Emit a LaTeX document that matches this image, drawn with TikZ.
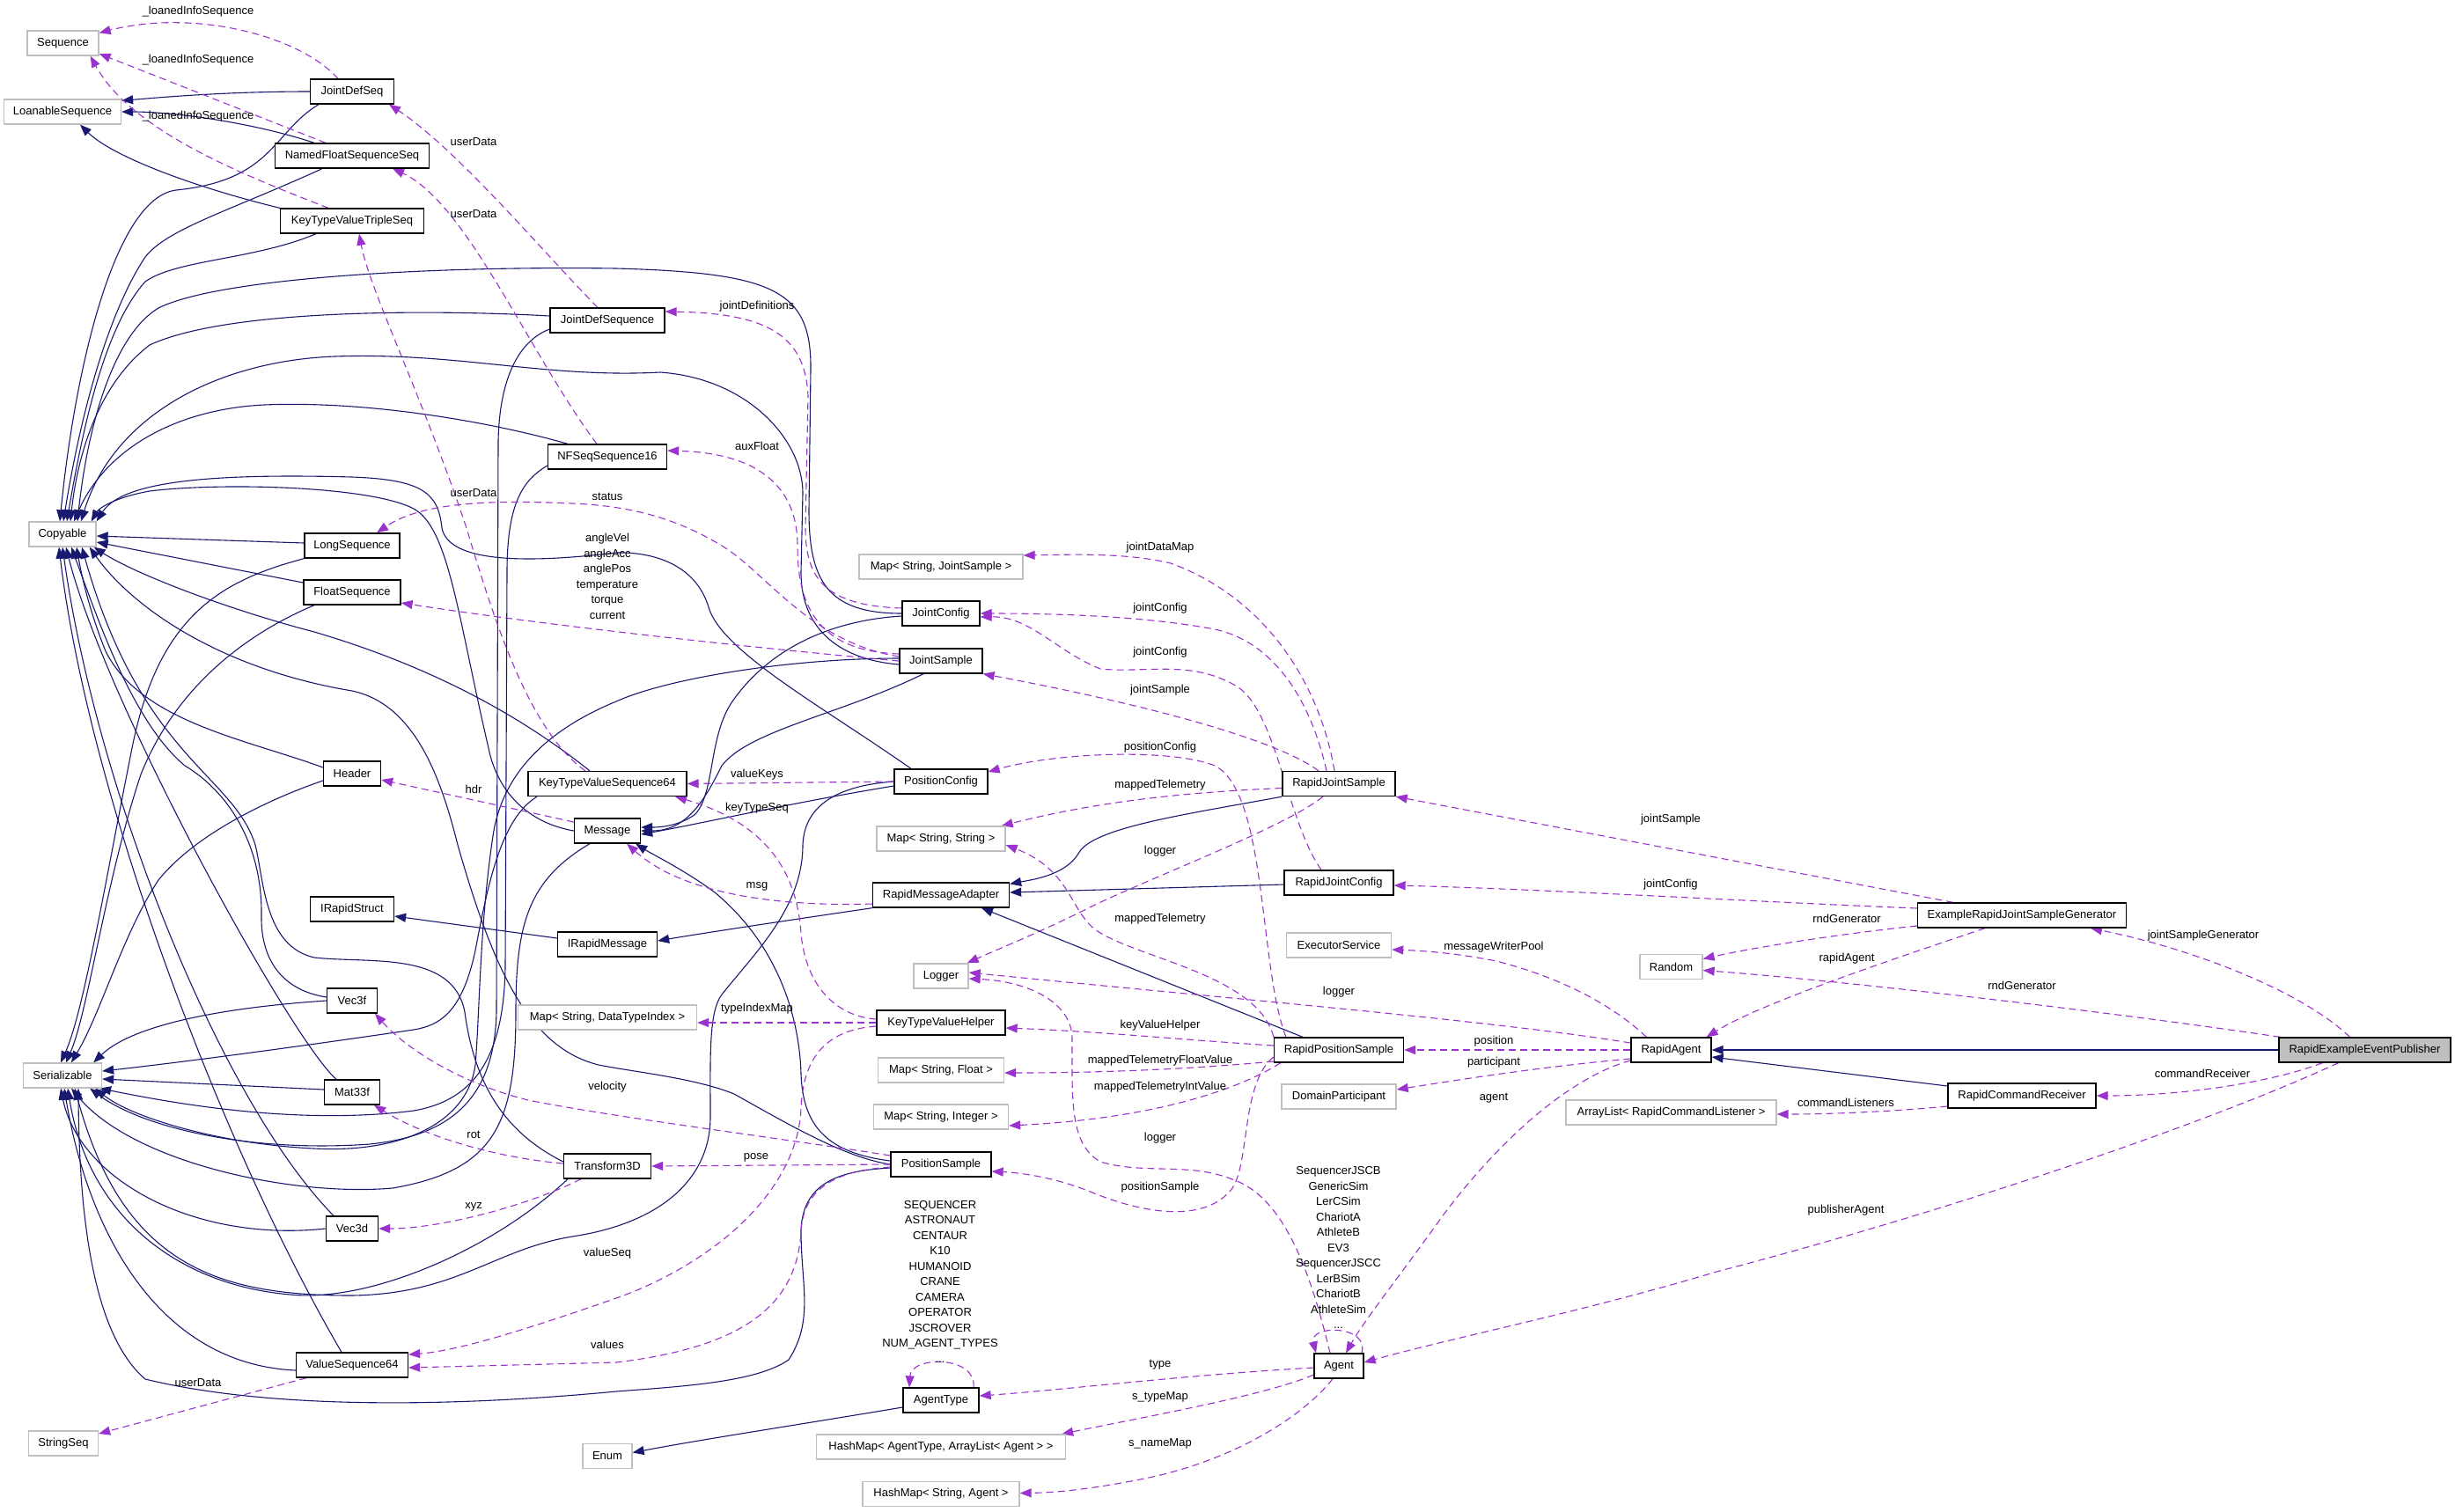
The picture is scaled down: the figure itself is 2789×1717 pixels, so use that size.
\documentclass[tikz,border=0pt]{standalone}
\usepackage{fontspec}
\setmainfont{Liberation Sans}
\usetikzlibrary{arrows.meta}
\definecolor{inhc}{HTML}{191970}
\definecolor{usec}{HTML}{9A32CD}
\definecolor{gbord}{HTML}{BFBFBF}
\newcommand\dfont{\fontsize{13}{15}\selectfont}
\pgfdeclarelayer{bg}
\pgfsetlayers{bg,main}
\tikzset{
 box/.style={draw=black, line width=1.3pt, fill=white, minimum height=28pt, inner xsep=5pt, inner ysep=0pt, font=\dfont, text=black},
 gbox/.style={box, draw=gbord},
 inh/.style={draw=inhc, line width=1.1pt, -{Triangle[length=13pt,width=10pt]}},
 use/.style={draw=usec, line width=1.1pt, dash pattern=on 8pt off 5pt, -{Triangle[length=13pt,width=10pt]}},
 lab/.style={font=\dfont, inner sep=0pt, text=black},
 mlab/.style={lab, align=center, font=\fontsize{13}{17.5}\selectfont},
}
\begin{document}
\begin{tikzpicture}[x=1pt,y=-1pt]
\useasboundingbox (0,0) rectangle (2789,1717);
% ---------- nodes ----------
\node[gbox, minimum width=81pt] (seq) at (71.5,49) {Sequence};
\node[gbox, minimum width=133pt] (loan) at (71,127) {LoanableSequence};
\node[gbox, minimum width=76pt] (copy) at (71,607) {Copyable};
\node[gbox, minimum width=89pt] (ser) at (71,1222) {Serializable};
\node[gbox, minimum width=79pt] (strseq) at (72,1640) {StringSeq};
\node[box, minimum width=95pt] (jds) at (400,104) {JointDefSeq};
\node[box, minimum width=175pt] (nfss) at (400,177) {NamedFloatSequenceSeq};
\node[box, minimum width=163pt] (ktvts) at (400,251) {KeyTypeValueTripleSeq};
\node[box, minimum width=108pt] (longs) at (400,620) {LongSequence};
\node[box, minimum width=110pt] (floats) at (400,673) {FloatSequence};
\node[box, minimum width=65pt] (header) at (400,879) {Header};
\node[box, minimum width=95pt] (irs) at (400,1033) {IRapidStruct};
\node[box, minimum width=57pt] (vec3f) at (400,1137) {Vec3f};
\node[box, minimum width=63pt] (mat33f) at (400,1241) {Mat33f};
\node[box, minimum width=59pt] (vec3d) at (400,1396) {Vec3d};
\node[box, minimum width=127pt] (vs64) at (400,1551) {ValueSequence64};
\node[box, minimum width=130pt] (jdseq) at (690,364) {JointDefSequence};
\node[box, minimum width=135pt] (nfs16) at (690,519) {NFSeqSequence16};
\node[box, minimum width=180pt] (ktvs64) at (690,890.5) {KeyTypeValueSequence64};
\node[box, minimum width=75pt] (msg) at (690,944) {Message};
\node[box, minimum width=113pt] (irm) at (690,1073) {IRapidMessage};
\node[gbox, minimum width=203pt] (mapdti) at (690,1156) {Map< String, DataTypeIndex >};
\node[box, minimum width=99pt] (tr3d) at (690,1325) {Transform3D};
\node[gbox, minimum width=56pt] (enum) at (690,1654.5) {Enum};
\node[gbox, minimum width=186pt] (mapjs) at (1069,644) {Map< String, JointSample >};
\node[box, minimum width=88pt] (jc) at (1069,697) {JointConfig};
\node[box, minimum width=94pt] (js) at (1069,751) {JointSample};
\node[box, minimum width=106pt] (pc) at (1069,888) {PositionConfig};
\node[gbox, minimum width=146pt] (mapss) at (1069,953) {Map< String, String >};
\node[box, minimum width=155pt] (rma) at (1069,1017) {RapidMessageAdapter};
\node[gbox, minimum width=62pt] (logger) at (1069,1109) {Logger};
\node[box, minimum width=146pt] (ktvh) at (1069,1162) {KeyTypeValueHelper};
\node[gbox, minimum width=143pt] (mapsf) at (1069,1216) {Map< String, Float >};
\node[gbox, minimum width=153pt] (mapsi) at (1069,1269) {Map< String, Integer >};
\node[box, minimum width=114pt] (ps) at (1069,1323) {PositionSample};
\node[box, minimum width=86pt] (at) at (1069,1591) {AgentType};
\node[gbox, minimum width=283pt] (hmat) at (1069,1644) {HashMap< AgentType, ArrayList< Agent > >};
\node[gbox, minimum width=178pt] (hmsa) at (1069,1697.5) {HashMap< String, Agent >};
\node[box, minimum width=128pt] (rjs) at (1521,890.5) {RapidJointSample};
\node[box, minimum width=124pt] (rjc) at (1521,1003) {RapidJointConfig};
\node[gbox, minimum width=119pt] (exec) at (1521,1074) {ExecutorService};
\node[box, minimum width=147pt] (rps) at (1521,1193) {RapidPositionSample};
\node[gbox, minimum width=130pt] (domp) at (1521,1246) {DomainParticipant};
\node[box, minimum width=56pt] (agent) at (1521,1552) {Agent};
\node[gbox, minimum width=71pt] (random) at (1898.5,1098.5) {Random};
\node[box, minimum width=91pt] (ra) at (1898.5,1193) {RapidAgent};
\node[gbox, minimum width=239pt] (arrl) at (1898.5,1264) {ArrayList< RapidCommandListener >};
\node[box, minimum width=237pt] (erjsg) at (2297,1040) {ExampleRapidJointSampleGenerator};
\node[box, minimum width=168pt] (rcr) at (2297,1245) {RapidCommandReceiver};
\node[box, fill=gbord, minimum width=195pt] (reep) at (2686.5,1193) {RapidExampleEventPublisher};
% ---------- labels ----------
\node[lab] (l1) at (225,13) {\_loanedInfoSequence};
\node[lab] (l2) at (225,68) {\_loanedInfoSequence};
\node[lab] (l3) at (225,132) {\_loanedInfoSequence};
\node[lab] (l4) at (538,161) {userData};
\node[lab] (l5) at (538,243) {userData};
\node[lab] (l6) at (538,560) {userData};
\node[lab] (l7) at (225,1571) {userData};
\node[lab] (l8) at (860,348) {jointDefinitions};
\node[lab] (l9) at (860,507) {auxFloat};
\node[lab] (l10) at (690,564) {status};
\node[mlab] (l11) at (690,655) {angleVel\\angleAcc\\anglePos\\temperature\\torque\\current};
\node[lab] (l12) at (538,897) {hdr};
\node[lab] (l13) at (860,880) {valueKeys};
\node[lab] (l14) at (860,918) {keyTypeSeq};
\node[lab] (l15) at (860,1007) {msg};
\node[lab] (l16) at (860,1146) {typeIndexMap};
\node[lab] (l17) at (690,1235) {velocity};
\node[lab] (l18) at (538,1289) {rot};
\node[lab] (l19) at (538,1371) {xyz};
\node[lab] (l20) at (859,1315) {pose};
\node[lab] (l21) at (690,1424) {valueSeq};
\node[lab] (l22) at (690,1528) {values};
\node[lab] (l23) at (1318,622) {jointDataMap};
\node[lab] (l24) at (1318,691) {jointConfig};
\node[lab] (l25) at (1318,741) {jointConfig};
\node[lab] (l26) at (1318,784) {jointSample};
\node[lab] (l27) at (1318,849) {positionConfig};
\node[lab] (l28) at (1318,892) {mappedTelemetry};
\node[lab] (l29) at (1318,967) {logger};
\node[lab] (l30) at (1318,1044) {mappedTelemetry};
\node[lab] (l31) at (1318,1165) {keyValueHelper};
\node[lab] (l32) at (1318,1205) {mappedTelemetryFloatValue};
\node[lab] (l33) at (1318,1235) {mappedTelemetryIntValue};
\node[lab] (l34) at (1318,1293) {logger};
\node[lab] (l35) at (1318,1349) {positionSample};
\node[lab] (l36) at (1318,1551) {type};
\node[lab] (l37) at (1318,1587) {s\_typeMap};
\node[lab] (l38) at (1318,1640) {s\_nameMap};
\node[mlab] (l39) at (1068,1456) {SEQUENCER\\ASTRONAUT\\CENTAUR\\K10\\HUMANOID\\CRANE\\CAMERA\\OPERATOR\\JSCROVER\\NUM\_AGENT\_TYPES\\...};
\node[mlab] (l40) at (1520.5,1417.5) {SequencerJSCB\\GenericSim\\LerCSim\\ChariotA\\AthleteB\\EV3\\SequencerJSCC\\LerBSim\\ChariotB\\AthleteSim\\...};
\node[lab] (l41) at (1898,931) {jointSample};
\node[lab] (l42) at (1898,1005) {jointConfig};
\node[lab] (l43) at (1697,1076) {messageWriterPool};
\node[lab] (l44) at (1521,1127) {logger};
\node[lab] (l45) at (1697,1183) {position};
\node[lab] (l46) at (1697,1207) {participant};
\node[lab] (l47) at (1697,1248) {agent};
\node[lab] (l48) at (2098,1044) {rndGenerator};
\node[lab] (l49) at (2098,1089) {rapidAgent};
\node[lab] (l50) at (2097,1253) {commandListeners};
\node[lab] (l51) at (2097,1375) {publisherAgent};
\node[lab] (l52) at (2503,1063) {jointSampleGenerator};
\node[lab] (l53) at (2297,1120) {rndGenerator};
\node[lab] (l54) at (2502,1219.5) {commandReceiver};
% ---------- edges ----------
\begin{pgfonlayer}{bg}
% to LoanableSequence
\draw[inh] (jds.west) .. controls (260,104) and (190,110) .. ([yshift=-2pt]loan.north east);
\draw[inh] ([xshift=-43pt]nfss.north) .. controls (290,140) and (200,127) .. (loan.east);
\draw[inh] (ktvts.north west) .. controls (230,215) and (130,180) .. ([xshift=20pt]loan.south);
% to Copyable
\draw[inh] ([xshift=-38pt]jds.south) .. controls (310,150) and (310,205) .. (200,216) .. controls (130,225) and (85,420) .. ([xshift=-3pt]copy.north);
\draw[inh] ([xshift=-34pt]nfss.south) .. controls (260,240) and (190,260) .. (165,292) .. controls (120,360) and (90,480) .. ([xshift=1pt]copy.north);
\draw[inh] ([xshift=-41pt]ktvts.south) .. controls (290,295) and (200,295) .. (165,320) .. controls (120,370) and (95,480) .. ([xshift=5pt]copy.north);
\draw[inh] ([yshift=5pt]jdseq.west) .. controls (500,352) and (260,350) .. (170,392) .. controls (120,430) and (90,500) .. ([xshift=9pt]copy.north);
\draw[inh] ([xshift=-45pt]nfs16.north) .. controls (560,480) and (420,455) .. (300,460) .. controls (200,465) and (120,510) .. ([xshift=13pt]copy.north);
\draw[inh] (jc.west) .. controls (940,697) and (919,660) .. (919,580) -- (921,420) .. controls (922,330) and (880,310) .. (700,305) .. controls (500,302) and (250,315) .. (180,350) .. controls (130,380) and (100,480) .. ([xshift=17pt]copy.north);
\draw[inh] ([yshift=-4pt]js.west) .. controls (960,750) and (910,720) .. (910,650) -- (912,560) .. controls (912,500) and (850,430) .. (750,423) .. controls (620,430) and (520,400) .. (380,405) .. controls (250,410) and (130,470) .. ([xshift=21pt]copy.north);
\draw[inh] ([xshift=-34pt]pc.north) .. controls (930,800) and (820,740) .. (805,690) .. controls (790,640) and (740,627) .. (700,628) .. controls (600,640) and (510,640) .. (502,600) .. controls (498,560) and (480,545) .. (400,542) .. controls (250,538) and (140,545) .. (copy.north east);
\draw[inh] (msg.west) .. controls (600,935) and (565,900) .. (555,850) .. controls (520,700) and (510,600) .. (470,578) .. controls (420,552) and (250,548) .. (170,558) .. controls (130,565) and (112,578) .. ([xshift=-6pt]copy.north east);
\draw[inh] ([yshift=3pt]longs.west) -- ([yshift=-2pt]copy.east);
\draw[inh] ([yshift=11pt]floats.west) -- ([yshift=-9pt]copy.east);
\draw[inh] ([yshift=7pt]header.west) .. controls (280,840) and (160,820) .. (120,740) .. controls (100,690) and (92,650) .. ([xshift=16pt]copy.south);
\draw[inh] ([xshift=-20pt]ktvs64.north) .. controls (600,820) and (500,760) .. (357,718) .. controls (250,690) and (150,650) .. ([xshift=-3pt]copy.south east);
\draw[inh] ([yshift=4pt]vec3f.west) .. controls (320,1125) and (296,1090) .. (297,1040) .. controls (298,960) and (260,900) .. (210,870) .. controls (150,820) and (110,700) .. ([xshift=10pt]copy.south);
\draw[inh] ([xshift=-18pt]mat33f.north) .. controls (330,1180) and (120,800) .. ([xshift=4pt]copy.south);
\draw[inh] ([xshift=-21pt]vec3d.north) .. controls (250,1250) and (110,900) .. (copy.south);
\draw[inh] ([xshift=-12pt]vs64.north) .. controls (250,1300) and (100,900) .. ([xshift=-4pt]copy.south);
\draw[inh] ([yshift=5pt]tr3d.west) .. controls (580,1290) and (540,1240) .. (528,1150) .. controls (515,1080) and (420,1095) .. (357,1088) .. controls (300,1075) and (300,1000) .. (290,960) .. controls (265,880) and (160,860) .. ([xshift=22pt]copy.south);
\draw[inh] (ps.west) .. controls (960,1315) and (900,1280) .. (834,1243) .. controls (790,1225) and (720,1218) .. (680,1210) .. controls (600,1190) and (560,1100) .. (520,960) .. controls (500,880) and (470,800) .. (400,785) .. controls (250,760) and (150,690) .. ([xshift=-8pt]copy.south east);
% to Serializable
\draw[inh] (longs.south west) .. controls (250,660) and (180,700) .. (150,850) .. controls (120,1000) and (95,1150) .. ([xshift=-2pt]ser.north);
\draw[inh] ([xshift=-43pt]floats.south) .. controls (280,720) and (200,780) .. (160,880) .. controls (120,1000) and (100,1150) .. ([xshift=4pt]ser.north);
\draw[inh] ([yshift=-8pt]header.west) .. controls (300,910) and (220,950) .. (180,1000) .. controls (140,1060) and (115,1150) .. ([xshift=10pt]ser.north);
\draw[inh] (vec3f.west) .. controls (250,1145) and (150,1165) .. ([xshift=-10pt]ser.north east);
\draw[inh] ([yshift=3pt]mat33f.west) -- ([yshift=-4pt]ser.east);
\draw[inh] ([xshift=-80pt]ktvs64.south) .. controls (570,930) and (555,1000) .. (540,1080) .. controls (525,1150) and (500,1165) .. (470,1170) .. controls (300,1195) and (180,1210) .. ([yshift=5pt]ser.east);
\draw[inh] (vec3d.west) .. controls (220,1412) and (90,1340) .. ([xshift=-2pt]ser.south);
\draw[inh] ([yshift=-6pt]vs64.west) .. controls (180,1550) and (100,1400) .. ([xshift=2pt]ser.south);
\draw[inh] ([xshift=-45pt]tr3d.south) .. controls (560,1420) and (420,1480) .. (330,1471) .. controls (200,1460) and (100,1380) .. ([xshift=6pt]ser.south);
\draw[inh] ([xshift=-20pt]msg.south) .. controls (600,1000) and (586,1050) .. (586,1150) .. controls (586,1280) and (560,1330) .. (446,1350) .. controls (330,1360) and (150,1320) .. ([xshift=10pt]ser.south);
\draw[inh] (pc.west) .. controls (960,892) and (914,910) .. (912,960) .. controls (912,1030) and (860,1080) .. (820,1130) .. controls (805,1150) and (807,1200) .. (807,1269) .. controls (807,1340) and (750,1390) .. (650,1405) .. controls (560,1420) and (520,1470) .. (400,1472) .. controls (250,1472) and (140,1440) .. ([xshift=14pt]ser.south);
\draw[inh] ([yshift=-4pt]ps.west) .. controls (960,1330) and (912,1340) .. (910,1398) .. controls (910,1460) and (925,1500) .. (896,1545) .. controls (860,1570) and (780,1575) .. (700,1581) .. controls (500,1600) and (300,1600) .. (165,1567) .. controls (110,1520) and (90,1400) .. ([xshift=18pt]ser.south);
\draw[inh] ([yshift=3pt]js.west) .. controls (900,748) and (760,770) .. (700,797) .. controls (620,830) and (570,880) .. (560,950) .. controls (545,1050) and (545,1150) .. (540,1210) .. controls (530,1280) and (450,1310) .. (357,1305) .. controls (250,1300) and (150,1270) .. ([xshift=-8pt]ser.south east);
\draw[inh] ([yshift=-10pt]jdseq.west) .. controls (595,385) and (568,420) .. (566,500) -- (564,1150) .. controls (562,1240) and (520,1290) .. (420,1300) .. controls (280,1310) and (160,1280) .. ([xshift=-14pt]ser.south east);
\draw[inh] ([yshift=-10pt]nfs16.west) .. controls (595,545) and (576,570) .. (576,650) -- (574,1100) .. controls (572,1200) and (540,1250) .. (470,1262) .. controls (330,1280) and (180,1250) .. ([xshift=-3pt]ser.south east);
% Message
\draw[inh] ([yshift=-3pt]jc.west) .. controls (940,705) and (870,740) .. (830,800) .. controls (805,840) and (812,900) .. (790,925) .. controls (770,940) and (745,940) .. ([yshift=4pt]msg.east);
\draw[inh] ([xshift=-20pt]js.south) .. controls (960,810) and (850,830) .. (820,870) .. controls (800,910) and (780,944) .. (msg.east);
\draw[inh] ([yshift=-5pt]pc.west) .. controls (900,912) and (800,935) .. ([yshift=-4pt]msg.east);
\draw[inh] ([yshift=4pt]ps.west) .. controls (940,1310) and (912,1280) .. (910,1220) .. controls (908,1150) and (880,1070) .. (812,1014) .. controls (780,990) and (740,970) .. ([xshift=-6pt]msg.south east);
% other inheritance
\draw[inh] (rma.south west) .. controls (900,1045) and (800,1060) .. ([yshift=4pt]irm.east);
\draw[inh] ([yshift=7pt]irm.west) -- ([yshift=-8pt]irs.east);
\draw[inh] (rjs.south west) .. controls (1350,925) and (1240,940) .. (1225,970) .. controls (1210,995) and (1170,1000) .. ([yshift=-2pt]rma.north east);
\draw[inh] ([yshift=-2pt]rjc.west) -- ([yshift=3pt]rma.east);
\draw[inh] ([xshift=-41pt]rps.north) -- ([xshift=46pt]rma.south);
\draw[inh] ([yshift=11pt]rcr.west) -- ([yshift=-8pt]ra.east);
\draw[inh] (reep.west) -- (ra.east);
\draw[inh] ([yshift=-8pt]at.west) .. controls (900,1620) and (800,1635) .. ([yshift=4pt]enum.east);
% ---------- usage ----------
\draw[use] ([xshift=-16pt]jds.north) .. controls (340,40) and (220,10) .. ([yshift=-3pt]seq.north east);
\draw[use] ([xshift=-30pt]nfss.north) -- ([yshift=-12pt]seq.east);
\draw[use] ([xshift=-27pt]ktvts.north) .. controls (280,200) and (150,150) .. ([xshift=-10pt]seq.south east);
\draw[use] ([xshift=-11pt]jdseq.north) .. controls (620,290) and (520,170) .. ([xshift=42pt]jds.south);
\draw[use] ([xshift=-12pt]nfs16.north) .. controls (600,400) and (530,230) .. ([xshift=46pt]nfss.south);
\draw[use] ([xshift=-25pt]ktvs64.north) .. controls (600,830) and (560,700) .. (530,600) .. controls (480,450) and (420,330) .. ([xshift=8pt]ktvts.south);
\draw[use] ([xshift=-52pt]vs64.south) -- ([yshift=11pt]strseq.east);
\draw[use] ([yshift=6pt]jc.west) .. controls (940,688) and (915,660) .. (915,600) -- (918,450) .. controls (915,380) and (870,356) .. ([yshift=10pt]jdseq.east);
\draw[use] ([yshift=8pt]js.west) .. controls (930,740) and (906,690) .. (906,620) .. controls (906,560) and (870,515) .. ([yshift=7pt]nfs16.east);
\draw[use] ([yshift=5pt]js.west) .. controls (920,730) and (870,650) .. (820,620) .. controls (770,590) and (720,575) .. (650,572) .. controls (560,568) and (480,570) .. ([xshift=28pt]longs.north);
\draw[use] (js.west) .. controls (900,740) and (650,715) .. ([yshift=-12pt]floats.east);
\draw[use] ([yshift=10pt]msg.west) -- ([yshift=-7pt]header.east);
\draw[use] (pc.west) -- (ktvs64.east);
\draw[use] ([yshift=4pt]ktvh.west) .. controls (950,1155) and (915,1120) .. (910,1060) .. controls (905,990) and (870,935) .. ([xshift=77pt]ktvs64.south);
\draw[use] ([yshift=-10pt]rma.west) .. controls (900,1030) and (780,1020) .. ([xshift=-16pt]msg.south east);
\draw[use] (ktvh.west) -- ([yshift=-6pt]mapdti.east);
\draw[use] ([yshift=10pt]ps.west) .. controls (900,1295) and (700,1270) .. (600,1250) .. controls (520,1230) and (460,1190) .. ([xshift=26pt]vec3f.south);
\draw[use] ([yshift=3pt]tr3d.west) .. controls (560,1315) and (480,1290) .. ([xshift=25pt]mat33f.south);
\draw[use] ([xshift=-30pt]tr3d.south) .. controls (600,1370) and (500,1396) .. (vec3d.east);
\draw[use] (ps.west) -- (tr3d.east);
\draw[use] ([yshift=-4pt]ktvh.west) .. controls (940,1170) and (912,1200) .. (910,1260) .. controls (905,1360) and (800,1440) .. (700,1475) .. controls (600,1510) and (520,1535) .. ([yshift=12pt]vs64.east);
\draw[use] ([yshift=-3pt]ps.west) .. controls (950,1330) and (912,1350) .. (910,1400) .. controls (905,1480) and (850,1530) .. (700,1548) -- ([yshift=-3pt]vs64.east);
\draw[use] ([xshift=-5pt]rjs.north) .. controls (1500,780) and (1440,680) .. (1330,640) .. controls (1280,628) and (1220,630) .. ([yshift=13pt]mapjs.east);
\draw[use] ([xshift=-14pt]rjs.north) .. controls (1490,800) and (1450,730) .. (1380,715) .. controls (1300,700) and (1200,697) .. (jc.east);
\draw[use] ([xshift=-20pt]rjc.north) .. controls (1460,930) and (1450,800) .. (1400,777) .. controls (1350,750) and (1300,765) .. (1250,760) .. controls (1200,740) and (1170,700) .. ([yshift=-4pt]jc.east);
\draw[use] ([xshift=-23pt]rjs.north) .. controls (1450,840) and (1300,800) .. (js.south east);
\draw[use] ([xshift=-60pt]rps.north) .. controls (1430,1100) and (1440,900) .. (1380,870) .. controls (1330,850) and (1200,855) .. ([yshift=11pt]pc.east);
\draw[use] ([yshift=-5pt]rjs.west) .. controls (1350,900) and (1250,910) .. ([xshift=-5pt]mapss.north east);
\draw[use] ([xshift=-18pt]rjs.south) .. controls (1460,940) and (1300,1000) .. (1236,1032) .. controls (1180,1060) and (1130,1080) .. ([xshift=-2pt]logger.north east);
\draw[use] (rps.north west) .. controls (1430,1110) and (1300,1090) .. (1250,1060) .. controls (1215,1040) and (1220,990) .. ([yshift=-7pt]mapss.east);
\draw[use] ([yshift=5pt]rps.west) .. controls (1350,1182) and (1250,1172) .. ([yshift=-6pt]ktvh.east);
\draw[use] ([yshift=-13pt]rps.west) .. controls (1350,1215) and (1250,1219) .. ([yshift=-3pt]mapsf.east);
\draw[use] ([xshift=8pt]rps.south west) .. controls (1420,1230) and (1330,1270) .. ([yshift=-10pt]mapsi.east);
\draw[use] ([xshift=-10pt]agent.north) .. controls (1490,1450) and (1460,1360) .. (1400,1340) .. controls (1350,1320) and (1300,1335) .. (1250,1320) .. controls (1215,1300) and (1218,1250) .. (1218,1180) .. controls (1218,1140) and (1170,1115) .. ([yshift=-3pt]logger.east);
\draw[use] ([yshift=8pt]ra.west) .. controls (1700,1160) and (1400,1135) .. ([yshift=4pt]logger.east);
\draw[use] ([yshift=-8pt]rps.west) .. controls (1410,1230) and (1420,1320) .. (1400,1350) .. controls (1370,1390) and (1300,1380) .. (1236,1353) .. controls (1190,1335) and (1150,1332) .. ([yshift=-8pt]ps.east);
\draw[use] ([yshift=-2pt]agent.west) .. controls (1350,1562) and (1200,1580) .. ([yshift=5pt]at.east);
\draw[use] ([yshift=-10pt]agent.west) .. controls (1440,1585) and (1300,1610) .. ([xshift=-5pt]hmat.north east);
\draw[use] ([xshift=-7pt]agent.south) .. controls (1480,1610) and (1400,1660) .. (1300,1680) .. controls (1240,1692) and (1200,1696) .. ([yshift=1pt]hmsa.east);
\draw[use] ([xshift=37pt]at.north) .. controls (1110,1540) and (1035,1540) .. ([xshift=-36pt]at.north);
\draw[use] ([xshift=26pt]agent.north) .. controls (1556,1505) and (1487,1505) .. ([xshift=-26pt]agent.north);
\draw[use] (ra.west) -- (rps.east);
\draw[use] ([yshift=-10pt]ra.west) .. controls (1750,1212) and (1650,1228) .. ([yshift=8pt]domp.east);
\draw[use] ([yshift=-12pt]ra.west) .. controls (1780,1225) and (1700,1300) .. (1640,1380) .. controls (1590,1450) and (1550,1500) .. ([xshift=8pt]agent.north);
\draw[use] ([xshift=-28pt]ra.north) .. controls (1830,1140) and (1770,1110) .. (1700,1092) .. controls (1650,1082) and (1610,1080) .. ([yshift=-5pt]exec.east);
\draw[use] ([xshift=-78pt]erjsg.north) -- (rjs.south east);
\draw[use] ([yshift=8pt]erjsg.west) .. controls (2000,1025) and (1750,1010) .. ([yshift=-3pt]rjc.east);
\draw[use] ([yshift=-12pt]erjsg.west) .. controls (2100,1060) and (2000,1075) .. ([yshift=9pt]random.east);
\draw[use] ([xshift=-42pt]erjsg.south) .. controls (2150,1090) and (2000,1140) .. ([xshift=-6pt]ra.north east);
\draw[use] ([xshift=2pt]reep.north west) .. controls (2400,1150) and (2100,1115) .. ([yshift=-4pt]random.east);
\draw[use] ([xshift=-17pt]reep.north) .. controls (2620,1130) and (2500,1080) .. ([xshift=78pt]erjsg.south);
\draw[use] ([xshift=-48pt]reep.south) .. controls (2580,1230) and (2480,1245) .. (rcr.east);
\draw[use] ([yshift=-12pt]rcr.west) .. controls (2150,1263) and (2080,1266) .. ([yshift=-2pt]arrl.east);
\draw[use] ([xshift=-30pt]reep.south) .. controls (2500,1280) and (2200,1380) .. (1950,1445) .. controls (1800,1490) and (1650,1520) .. ([yshift=4pt]agent.east);
\end{pgfonlayer}
\end{tikzpicture}
\end{document}
